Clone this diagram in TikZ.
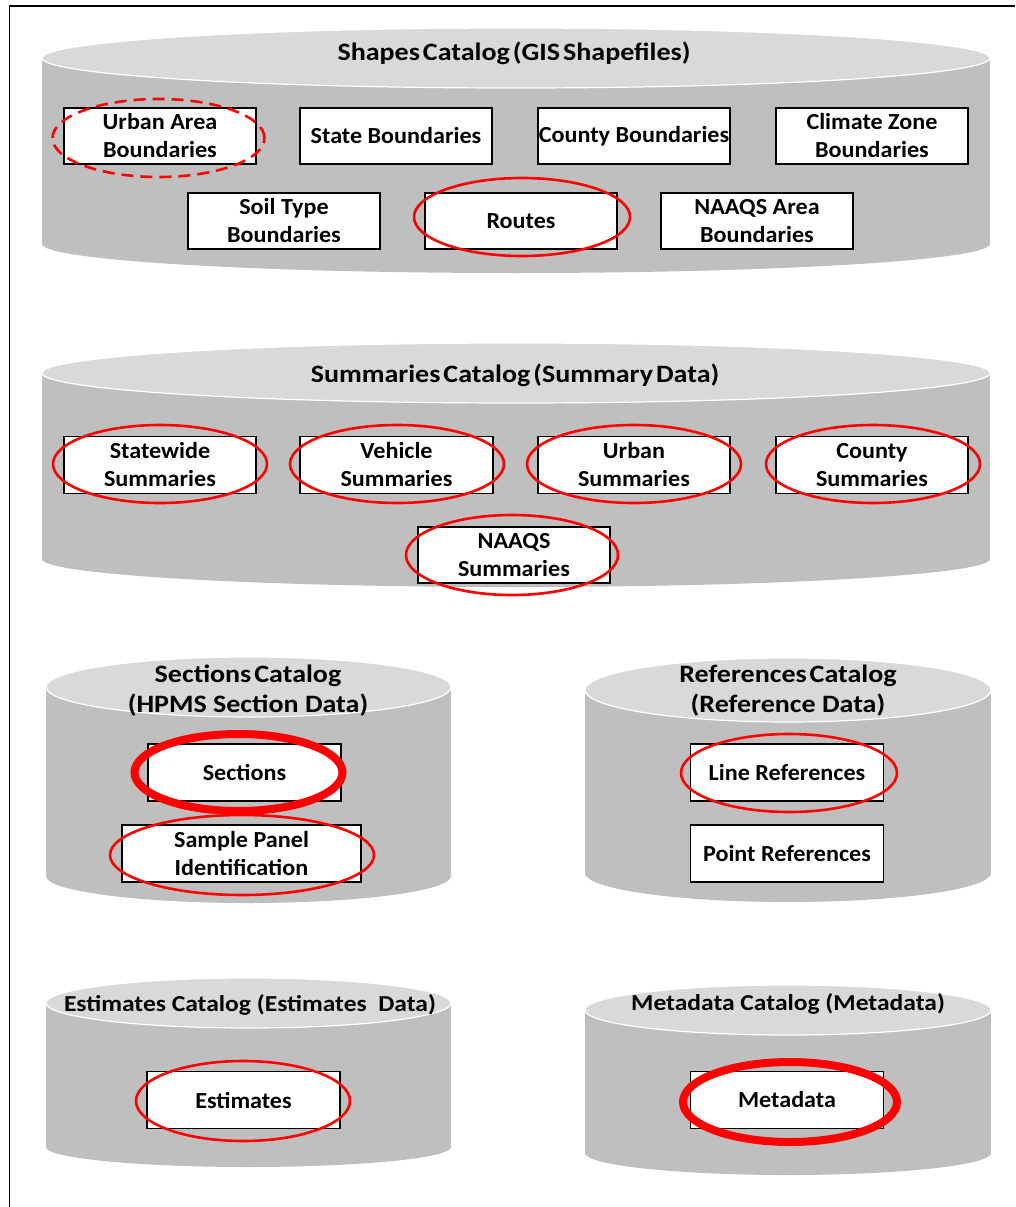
\documentclass[tikz,border=0pt]{standalone}
\usepackage{fontspec}
\setmainfont{Carlito}
\newfontfamily\widefont{Carlito}[FakeStretch=1.05]
\newfontfamily\titlefont{Carlito}[FakeStretch=1.12]
\definecolor{cyltop}{HTML}{D9D9D9}
\definecolor{cylbody}{HTML}{BFBFBF}
\definecolor{ringred}{HTML}{FF0000}
\newcommand{\tightsp}{\spaceskip=0.12em\relax}
\tikzset{
  boxnode/.style={draw=black, line width=1.3pt, fill=white, inner sep=0pt, align=center,
    font=\widefont\fontsize{23}{28}\selectfont\bfseries},
  titlenode/.style={inner sep=0pt, align=center,
    font=\titlefont\fontsize{25}{30}\selectfont\bfseries},
  smalltitle/.style={inner sep=0pt, align=center,
    font=\titlefont\fontsize{22.8}{30}\selectfont\bfseries},
  ring/.style={draw=ringred, line width=2.6pt},
  thickring/.style={draw=ringred, line width=8pt},
  dashring/.style={draw=ringred, line width=2.6pt, dash pattern=on 12pt off 7pt},
}
% cylinder: #1 left x, #2 right x, #3 top-ellipse centre y, #4 bottom-ellipse centre y, #5 ry top, #6 ry bottom
\newcommand{\mycyl}[6]{%
  \fill[cylbody] (#1,#3) rectangle (#2,#4);
  \fill[cylbody] ({(#1+#2)/2},#4) ellipse [x radius={(#2-#1)/2*1pt}, y radius=#6pt];
  \filldraw[fill=cyltop, draw=white, line width=1.2pt] ({(#1+#2)/2},#3) ellipse [x radius={(#2-#1)/2*1pt}, y radius=#5pt];
}
\begin{document}
\begin{tikzpicture}[x=1pt, y=-1pt]
\useasboundingbox (0,0) rectangle (1015,1207);
\fill[white] (0,0) rectangle (1015,1207);
% frame
\draw[line width=1.6pt] (9.5,1207) -- (9.5,6) -- (1015,6);

% ---------- Shapes catalog ----------
\mycyl{42}{990}{58}{244}{30}{29}
\node[titlenode] (tshapes) at (514,53) {\tightsp Shapes Catalog (GIS Shapefiles)};
\node[boxnode, minimum width=192pt, minimum height=56pt] (urbanb) at (160,136) {Urban Area\\Boundaries};
\node[boxnode, minimum width=192pt, minimum height=56pt] (stateb) at (396,136) {State Boundaries};
\node[boxnode, minimum width=192pt, minimum height=56pt] (countyb) at (634,136) {County Boundaries};
\node[boxnode, minimum width=192pt, minimum height=56pt] (climb) at (872,136) {Climate Zone\\Boundaries};
\node[boxnode, minimum width=192pt, minimum height=56pt] (soilb) at (284,221) {Soil Type\\Boundaries};
\node[boxnode, minimum width=192pt, minimum height=56pt] (routes) at (521,221) {Routes};
\node[boxnode, minimum width=192pt, minimum height=56pt] (naaqsb) at (757,221) {NAAQS Area\\Boundaries};
\draw[dashring] (158.5,138) ellipse [x radius=106pt, y radius=39pt];
\draw[ring] (522,217) ellipse [x radius=108pt, y radius=39pt];

% ---------- Summaries catalog ----------
\mycyl{42}{990}{373}{559}{30}{28}
\node[titlenode] (tsum) at (515,375) {\tightsp Summaries Catalog (Summary Data)};
\node[boxnode, minimum width=192pt, minimum height=57pt] (statesum) at (160,465) {Statewide\\Summaries};
\node[boxnode, minimum width=193pt, minimum height=57pt] (vehsum) at (396.5,465) {Vehicle\\Summaries};
\node[boxnode, minimum width=192pt, minimum height=57pt] (urbsum) at (634,465) {Urban\\Summaries};
\node[boxnode, minimum width=192pt, minimum height=57pt] (cntsum) at (872,465) {County\\Summaries};
\node[boxnode, minimum width=192pt, minimum height=56pt] (naaqssum) at (514,555) {NAAQS\\Summaries};
\draw[ring] (160,464) ellipse [x radius=107pt, y radius=39pt];
\draw[ring] (397,464) ellipse [x radius=107pt, y radius=39pt];
\draw[ring] (634,464) ellipse [x radius=107pt, y radius=39pt];
\draw[ring] (873,464) ellipse [x radius=107pt, y radius=39pt];
\draw[ring] (512,555) ellipse [x radius=106pt, y radius=40pt];

% ---------- Sections catalog ----------
\mycyl{46}{451}{687}{876}{30}{27}
\node[titlenode] (tsec) at (248,691) {\tightsp Sections Catalog\\(HPMS Section Data)};
\node[boxnode, minimum width=193pt, minimum height=57pt] (sections) at (244.5,772.5) {Sections};
\node[boxnode, minimum width=239pt, minimum height=57pt] (sample) at (241.5,853.5) {Sample Panel\\Identification};
\draw[thickring] (238.5,772.5) ellipse [x radius=104pt, y radius=38.5pt];
\draw[ring] (242,855) ellipse [x radius=132pt, y radius=40pt];

% ---------- References catalog ----------
\mycyl{585}{991}{690}{873}{32}{29}
\node[titlenode] (tref) at (788,691) {\tightsp References Catalog\\(Reference Data)};
\node[boxnode, minimum width=193pt, minimum height=57pt] (lineref) at (787,772.5) {Line References};
\node[boxnode, minimum width=193pt, minimum height=57pt] (pointref) at (787,853.5) {Point References};
\draw[ring] (789,773) ellipse [x radius=108pt, y radius=39pt];

% ---------- Estimates catalog ----------
\mycyl{46}{451}{1003}{1147}{25}{20}
\node[smalltitle] (test) at (250,1005) {Estimates Catalog (Estimates\ \ Data)};
\node[boxnode, minimum width=193pt, minimum height=57pt] (estimates) at (243.5,1100) {Estimates};
\draw[ring] (243,1101) ellipse [x radius=107pt, y radius=40pt];

% ---------- Metadata catalog ----------
\mycyl{585}{991}{1010}{1153}{25}{22}
\node[smalltitle] (tmeta) at (788,1004) {Metadata Catalog (Metadata)};
\node[boxnode, minimum width=193pt, minimum height=57pt] (metadata) at (787,1100) {Metadata};
\draw[thickring] (790,1102) ellipse [x radius=107pt, y radius=40pt];
\end{tikzpicture}
\end{document}
